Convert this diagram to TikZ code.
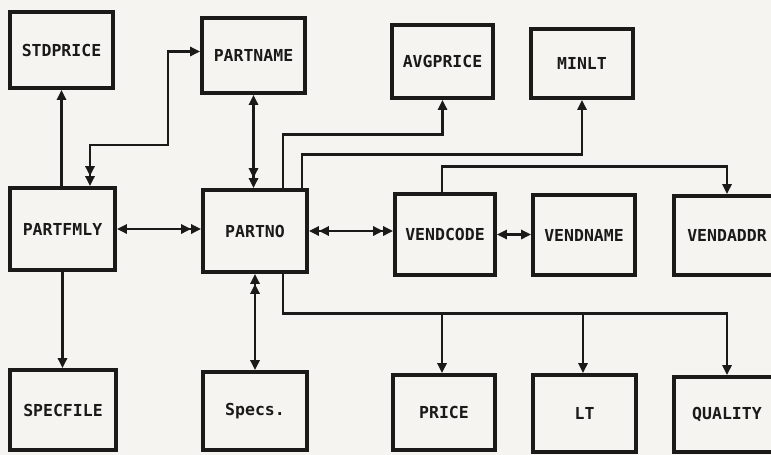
\documentclass[tikz,border=0pt]{standalone}
\usepackage{fontspec}
\newfontfamily\boxfont{DejaVu Sans Mono}
\usetikzlibrary{arrows.meta,calc}
\definecolor{ink}{HTML}{1C1A18}
\definecolor{paper}{HTML}{F5F4F1}
\begin{document}
\begin{tikzpicture}[x=1pt,y=-1pt,
  fbox/.style={draw=ink, line width=3.6pt, inner sep=0pt,
    font=\boxfont\bfseries\fontsize{16.5}{16.5}\selectfont, text=ink},
  link/.style={draw=ink, line width=2.8pt},
  tip/.tip={Triangle[length=10pt,width=9pt]},
  dtip/.tip={Triangle[length=10pt,width=9pt] Triangle[length=10pt,width=9pt]}]
  \fill[paper] (0,0) rectangle (771,455);
  \useasboundingbox (0,0) rectangle (771,455);
  \clip (0,0) rectangle (771,455);

  % entity boxes
  \node[fbox, minimum width=103pt, minimum height=76pt] (stdprice) at (61.5,50) {STDPRICE};
  \node[fbox, minimum width=103pt, minimum height=75pt] (partname) at (253.5,55.5) {PARTNAME};
  \node[fbox, minimum width=101pt, minimum height=73pt] (avgprice) at (442.5,61.5) {AVGPRICE};
  \node[fbox, minimum width=102pt, minimum height=69pt] (minlt) at (582,63.5) {MINLT};
  \node[fbox, minimum width=105pt, minimum height=82pt] (partfmly) at (62.5,229) {PARTFMLY};
  \node[fbox, minimum width=104pt, minimum height=82pt] (partno) at (255,231) {PARTNO};
  \node[fbox, minimum width=100pt, minimum height=81pt] (vendcode) at (445,234.5) {VENDCODE};
  \node[fbox, minimum width=102pt, minimum height=80pt] (vendname) at (584,235) {VENDNAME};
  \node[fbox, minimum width=106pt, minimum height=79pt] (vendaddr) at (727,235.5) {VENDADDR};
  \node[fbox, minimum width=106pt, minimum height=80pt] (specfile) at (63,410) {SPECFILE};
  \node[fbox, minimum width=104pt, minimum height=78pt] (specs) at (255,411) {Specs.};
  \node[fbox, minimum width=102pt, minimum height=75pt] (price) at (444,412.5) {PRICE};
  \node[fbox, minimum width=103pt, minimum height=77pt] (lt) at (584.5,413.5) {LT};
  \node[fbox, minimum width=106pt, minimum height=75pt] (quality) at (727,414.5) {QUALITY};

  % connectors of the part family
  \draw[link, -tip] (stdprice.south |- partfmly.north) -- (stdprice.south);
  \draw[link, dtip-tip] ($(partfmly.north)+(27.5,0)$) |- (168,145) |- ($(partname.west)+(0,-4)$);
  \draw[link, -tip] (partfmly.south) -- (partfmly.south |- specfile.north);
  \draw[link, tip-dtip] (partfmly.east) -- (partfmly.east -| partno.west);

  % connectors of the part number
  \draw[link, tip-dtip] (partname.south) -- (partname.south |- partno.north);
  \draw[link, -tip] ($(partno.north)+(28,0)$) |- ($(avgprice.south)+(0,35)$) -- (avgprice.south);
  \draw[link, -tip] ($(partno.north)+(47,0)$) |- ($(minlt.south)+(0,55)$) -- (minlt.south);
  \draw[link, dtip-tip] (partno.south) -- (partno.south |- specs.north);
  \draw[link, dtip-dtip] (partno.east) -- (partno.east -| vendcode.west);

  % connectors of the vendor code
  \draw[link, tip-tip] (vendcode.east) -- (vendcode.east -| vendname.west);
  \draw[link, -tip] ($(vendcode.north)+(-3,0)$) |- ($(vendaddr.north)+(0,-28)$) -- (vendaddr.north);

  % bus to price, lead time and quality
  \draw[link, -tip] ($(partno.south)+(28,0)$) |- ($(quality.north)+(0,-62)$) -- (quality.north);
  \draw[link, -tip] ($(price.north)+(-2,-60)$) -- ($(price.north)+(-2,0)$);
  \draw[link, -tip] ($(lt.north)+(-1.5,-60)$) -- ($(lt.north)+(-1.5,0)$);
\end{tikzpicture}
\end{document}
